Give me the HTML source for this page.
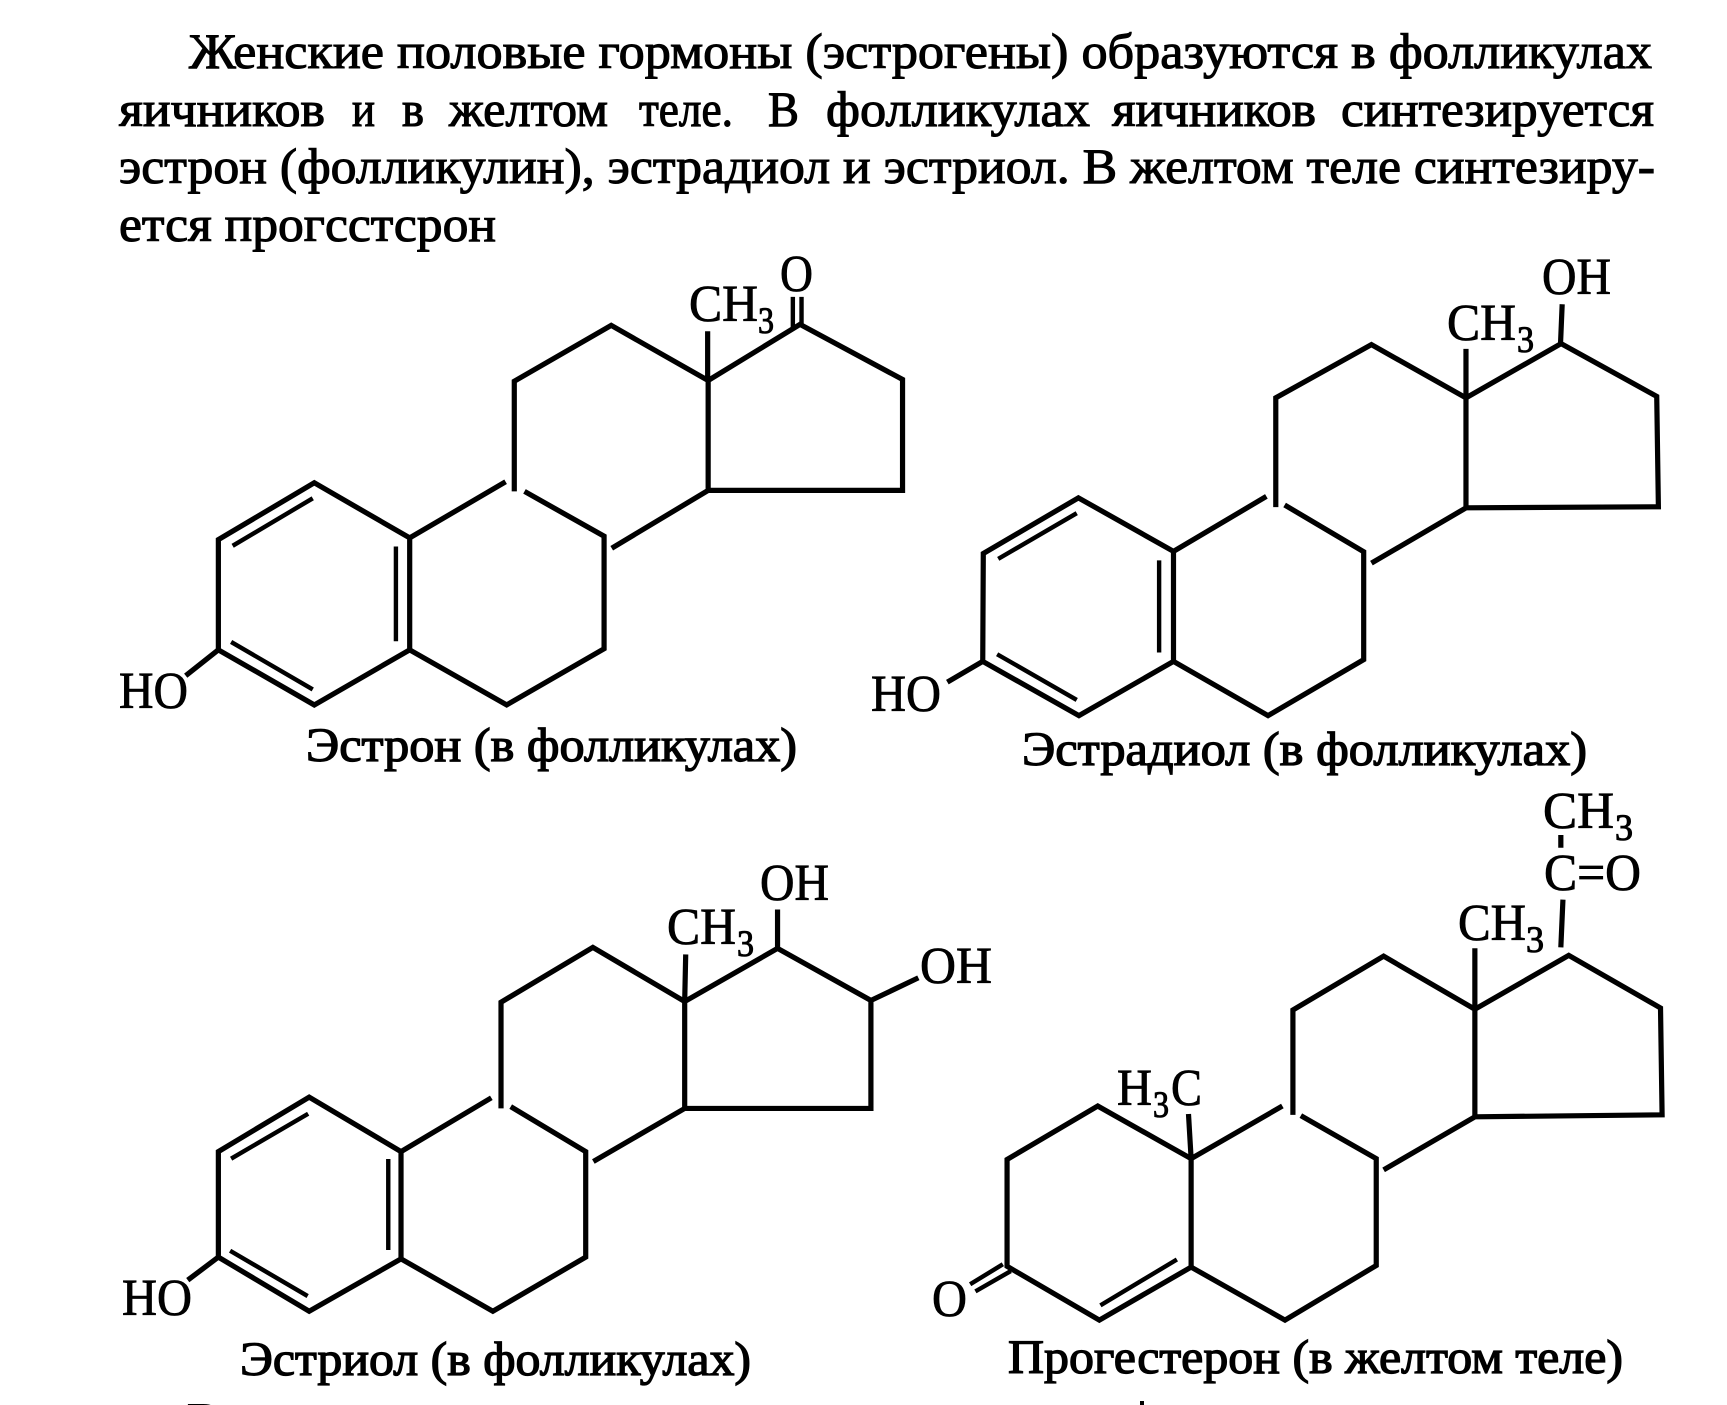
<!DOCTYPE html>
<html><head><meta charset="utf-8"><style>
html,body{margin:0;padding:0;background:#fff;width:1727px;height:1405px;overflow:hidden}
svg{display:block}
text{font-family:"Liberation Serif","DejaVu Serif",serif;fill:#000;stroke:#000;stroke-width:1.1px}
.t{font-size:50px}
.c{font-size:48px;stroke-width:1.3px}
.l{font-size:52px;stroke-width:.8px}
.s{font-size:37px;stroke-width:1px}
path{fill:none;stroke:#000;stroke-width:5.2px;stroke-linecap:butt;stroke-linejoin:miter;vector-effect:non-scaling-stroke}
path.i{stroke-width:4.4px}
</style></head><body>
<svg width="1727" height="1405" viewBox="0 0 1727 1405" xmlns="http://www.w3.org/2000/svg">
<rect width="1727" height="1405" fill="#fff"/>
<text class="t" x="189" y="68" textLength="1463" lengthAdjust="spacingAndGlyphs">Женские половые гормоны (эстрогены) образуются в фолликулах</text>
<g class="t">
<text class="t" x="119" y="126" textLength="206" lengthAdjust="spacingAndGlyphs">яичников</text>
<text class="t" x="352" y="126" textLength="23" lengthAdjust="spacingAndGlyphs">и</text>
<text class="t" x="402" y="126" textLength="22" lengthAdjust="spacingAndGlyphs">в</text>
<text class="t" x="449" y="126" textLength="159" lengthAdjust="spacingAndGlyphs">желтом</text>
<text class="t" x="639" y="126" textLength="94" lengthAdjust="spacingAndGlyphs">теле.</text>
<text class="t" x="768" y="126" textLength="31" lengthAdjust="spacingAndGlyphs">В</text>
<text class="t" x="826" y="126" textLength="264" lengthAdjust="spacingAndGlyphs">фолликулах</text>
<text class="t" x="1112" y="126" textLength="204" lengthAdjust="spacingAndGlyphs">яичников</text>
<text class="t" x="1341" y="126" textLength="313" lengthAdjust="spacingAndGlyphs">синтезируется</text>
</g>
<text class="t" x="119" y="183" textLength="1536" lengthAdjust="spacingAndGlyphs">эстрон (фолликулин), эстрадиол и эстриол. В желтом теле синтезиру-</text>
<text class="t" x="119" y="241" textLength="377" lengthAdjust="spacingAndGlyphs">ется прогсстсрон</text>

<!-- Эстрон -->
<g transform="translate(100,240) scale(.5102,.3444)">
<path d="M232 1190V870L420 705L607 865V1190L420 1350L232 1190Z"/>
<path class="i" d="M260 888L417 750M257 1167L417 1305M580 890V1165"/>
<path d="M607 865L795 702M812 730V410L1002 248L1192 408V727M832 730L988 860V1187L797 1350L607 1190M1003 895L1192 727H1573V405L1372 245L1192 408M1191 265V408M232 1190L168 1265"/>
<path class="i" d="M1358 165V255M1375 165V245"/>
</g>
<text class="l" x="119" y="708" textLength="69" lengthAdjust="spacingAndGlyphs">HO</text>
<text class="l" x="689" y="321" textLength="69" lengthAdjust="spacingAndGlyphs">CH</text>
<text class="s" x="758" y="333" textLength="16" lengthAdjust="spacingAndGlyphs">3</text>
<text class="l" x="780" y="291" textLength="33" lengthAdjust="spacingAndGlyphs">O</text>
<text class="c" x="306" y="761" textLength="491" lengthAdjust="spacingAndGlyphs">Эстрон (в фолликулах)</text>

<!-- Эстрадиол -->
<g transform="translate(860,240) scale(.5529,.3571)">
<path d="M222 1180L223 878L395 722L567 872V1180L396 1332L222 1180Z"/>
<path class="i" d="M250 893L392 765M248 1160L392 1288M541 897V1155"/>
<path d="M567 872L735 718M752 748V442L925 293L1096 442V750M768 742L911 873V1175L738 1332L567 1180M925 905L1096 750L1444 747L1441 438L1268 290L1096 442M1096 305V442M1270 180L1267 290M222 1180L158 1238"/>
</g>
<text class="l" x="1542" y="294" textLength="69" lengthAdjust="spacingAndGlyphs">OH</text>
<text class="l" x="1447" y="340" textLength="69" lengthAdjust="spacingAndGlyphs">CH</text>
<text class="s" x="1517" y="352" textLength="17" lengthAdjust="spacingAndGlyphs">3</text>
<text class="l" x="871" y="711" textLength="70" lengthAdjust="spacingAndGlyphs">HO</text>
<text class="c" x="1022" y="765" textLength="565" lengthAdjust="spacingAndGlyphs">Эстрадиол (в фолликулах)</text>

<!-- Эстриол -->
<g transform="translate(100,850) scale(.5102,.354)">
<path d="M232 1150V852L410 698L590 852V1155L410 1303L232 1150Z"/>
<path class="i" d="M257 872L408 745M255 1132L407 1260M565 873V1130"/>
<path d="M590 852L767 700M786 730V430L966 275L1146 428V730M805 725L952 852V1150L770 1303L590 1155M967 880L1146 730H1511V425L1328 278L1146 428M1148 295L1146 428M1328 168V278M1511 425L1604 361M232 1150L172 1215"/>
</g>
<text class="l" x="760" y="900" textLength="69" lengthAdjust="spacingAndGlyphs">OH</text>
<text class="l" x="667" y="944" textLength="69" lengthAdjust="spacingAndGlyphs">CH</text>
<text class="s" x="737" y="956" textLength="17" lengthAdjust="spacingAndGlyphs">3</text>
<text class="l" x="920" y="983" textLength="72" lengthAdjust="spacingAndGlyphs">OH</text>
<text class="l" x="122" y="1315" textLength="70" lengthAdjust="spacingAndGlyphs">HO</text>
<text class="c" x="240" y="1375" textLength="511" lengthAdjust="spacingAndGlyphs">Эстриол (в фолликулах)</text>

<!-- Прогестерон -->
<g transform="translate(900,780) scale(.5274,.3986)">
<path d="M203 1220V952L375 818L552 950V1222L378 1355L203 1220Z"/>
<path class="i" d="M380 1318L525 1203M133 1265L195 1215M143 1283L210 1232"/>
<path d="M547 838L552 950L725 818M745 840V577L917 442L1090 575V845M760 842L903 950V1218L730 1355L552 1222M917 978L1090 845L1445 840L1442 572L1268 440L1090 575M1090 422V575M1257 300L1253 420M1253 138V170"/>
</g>
<text class="l" x="1543" y="828" textLength="71" lengthAdjust="spacingAndGlyphs">CH</text>
<text class="s" x="1615" y="840" textLength="18" lengthAdjust="spacingAndGlyphs">3</text>
<text class="l" x="1544" y="890" textLength="97" lengthAdjust="spacingAndGlyphs">C=O</text>
<text class="l" x="1458" y="940" textLength="68" lengthAdjust="spacingAndGlyphs">CH</text>
<text class="s" x="1526" y="952" textLength="18" lengthAdjust="spacingAndGlyphs">3</text>
<text class="l" x="1117" y="1105" textLength="35" lengthAdjust="spacingAndGlyphs">H</text>
<text class="s" x="1153" y="1117" textLength="16" lengthAdjust="spacingAndGlyphs">3</text>
<text class="l" x="1171" y="1105" textLength="31" lengthAdjust="spacingAndGlyphs">C</text>
<text class="l" x="932" y="1316" textLength="35" lengthAdjust="spacingAndGlyphs">O</text>
<text class="c" x="1008" y="1373" textLength="615" lengthAdjust="spacingAndGlyphs">Прогестерон (в желтом теле)</text>

<text class="t" x="187" y="1437">В</text>
<rect x="1140" y="1401" width="4" height="4" fill="#000"/>
</svg>
</body></html>
